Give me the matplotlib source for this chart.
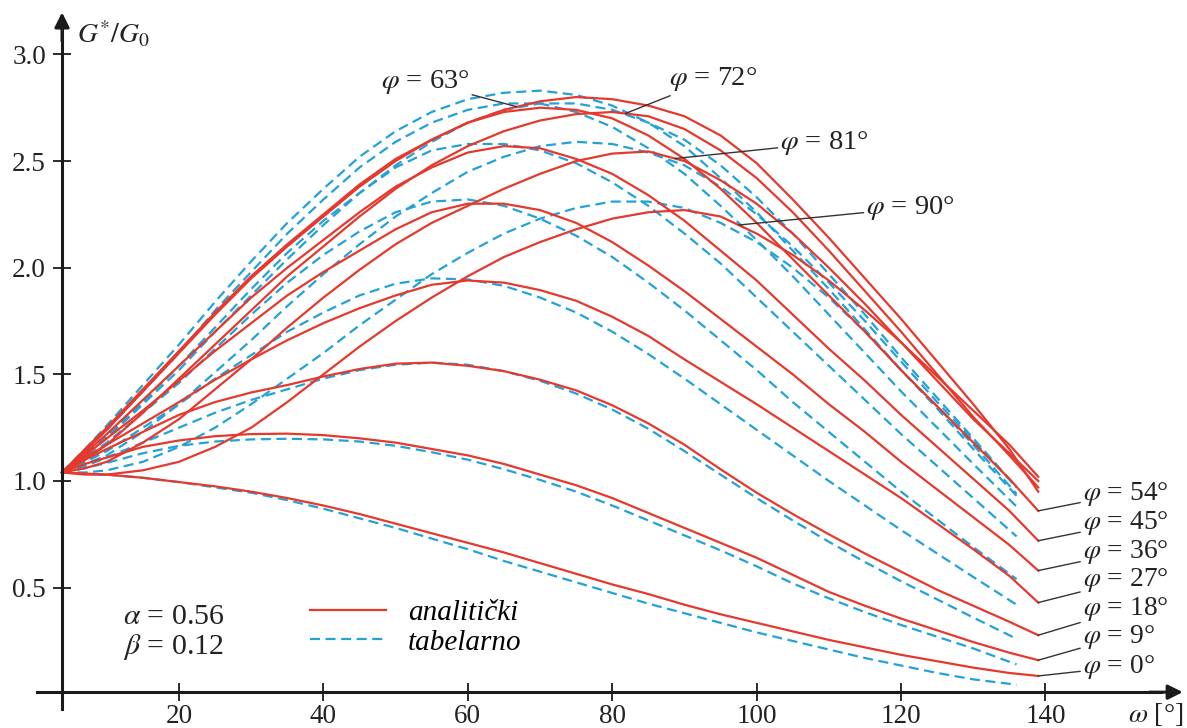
import numpy as np
import matplotlib
matplotlib.use("Agg")
import matplotlib.pyplot as plt

plt.rcParams['font.family'] = ['Liberation Serif', 'DejaVu Serif']
plt.rcParams['mathtext.fontset'] = 'stix'

# omega (deg) at which the curves were read
w_red = [3.8, 7, 10, 15, 20, 25, 30, 35, 40, 45, 50, 55, 60, 65, 70, 75, 80, 85, 90,
         95, 100, 105, 110, 115, 120, 125, 130, 135, 139]
w_blue = [3.8, 7, 10, 15, 20, 25, 30, 35, 40, 45, 50, 55, 60, 65, 70, 75, 80, 85, 90,
          95, 100, 105, 110, 115, 120, 125, 130, 136]

phis = [0, 9, 18, 27, 36, 45, 54, 63, 72, 81, 90]

# analiticki (red, solid)
red_00 = [1.04, 1.035, 1.03, 1.015, 0.995, 0.975, 0.95, 0.92, 0.885, 0.845, 0.80, 0.755, 0.71, 0.665, 0.615,
          0.565, 0.515, 0.47, 0.42, 0.375, 0.335, 0.295, 0.255, 0.22, 0.185, 0.155, 0.125, 0.10, 0.086]
red_09 = [1.04, 1.08, 1.11, 1.16, 1.19, 1.21, 1.22, 1.222, 1.215, 1.20, 1.18, 1.15, 1.12, 1.08, 1.03,
          0.98, 0.92, 0.85, 0.78, 0.71, 0.64, 0.56, 0.48, 0.415, 0.355, 0.30, 0.245, 0.195, 0.16]
red_18 = [1.04, 1.10, 1.15, 1.23, 1.31, 1.37, 1.415, 1.45, 1.49, 1.525, 1.55, 1.555, 1.54, 1.515, 1.475,
          1.425, 1.355, 1.27, 1.17, 1.055, 0.945, 0.845, 0.75, 0.66, 0.575, 0.49, 0.415, 0.34, 0.277]
red_27 = [1.04, 1.11, 1.17, 1.27, 1.37, 1.475, 1.57, 1.66, 1.74, 1.81, 1.87, 1.92, 1.94, 1.93, 1.895,
          1.845, 1.77, 1.68, 1.57, 1.465, 1.36, 1.25, 1.14, 1.03, 0.92, 0.80, 0.68, 0.555, 0.43]
red_36 = [1.04, 1.12, 1.20, 1.33, 1.47, 1.61, 1.74, 1.87, 1.98, 2.08, 2.18, 2.26, 2.30, 2.30, 2.27,
          2.21, 2.12, 2.01, 1.89, 1.76, 1.63, 1.50, 1.36, 1.23, 1.09, 0.96, 0.83, 0.70, 0.58]
red_45 = [1.04, 1.13, 1.22, 1.38, 1.54, 1.70, 1.86, 2.00, 2.13, 2.26, 2.38, 2.47, 2.54, 2.57, 2.56,
          2.51, 2.44, 2.34, 2.22, 2.08, 1.94, 1.78, 1.62, 1.47, 1.31, 1.16, 1.01, 0.86, 0.72]
red_54 = [1.04, 1.14, 1.24, 1.42, 1.60, 1.78, 1.95, 2.10, 2.24, 2.38, 2.50, 2.60, 2.68, 2.73, 2.75,
          2.74, 2.70, 2.62, 2.51, 2.37, 2.21, 2.04, 1.87, 1.70, 1.52, 1.35, 1.18, 1.01, 0.86]
red_63 = [1.04, 1.15, 1.25, 1.43, 1.61, 1.79, 1.96, 2.11, 2.25, 2.39, 2.51, 2.60, 2.68, 2.74, 2.78,
          2.80, 2.79, 2.76, 2.71, 2.62, 2.49, 2.32, 2.14, 1.95, 1.76, 1.56, 1.36, 1.15, 0.95]
red_72 = [1.04, 1.10, 1.17, 1.32, 1.48, 1.64, 1.80, 1.96, 2.10, 2.24, 2.37, 2.48, 2.57, 2.64, 2.69,
          2.72, 2.73, 2.71, 2.65, 2.55, 2.42, 2.26, 2.08, 1.89, 1.70, 1.50, 1.30, 1.12, 0.97]
red_81 = [1.04, 1.06, 1.09, 1.18, 1.29, 1.43, 1.57, 1.72, 1.86, 1.99, 2.11, 2.21, 2.29, 2.37, 2.44,
          2.50, 2.535, 2.545, 2.50, 2.41, 2.30, 2.16, 2.00, 1.83, 1.65, 1.47, 1.29, 1.13, 1.00]
red_90 = [1.04, 1.03, 1.03, 1.05, 1.09, 1.16, 1.25, 1.37, 1.50, 1.63, 1.75, 1.86, 1.96, 2.05, 2.12,
          2.18, 2.23, 2.26, 2.27, 2.24, 2.16, 2.06, 1.94, 1.80, 1.65, 1.49, 1.33, 1.17, 1.02]

# tabelarno (blue, dashed)
blue_00 = [1.04, 1.035, 1.03, 1.015, 0.995, 0.97, 0.945, 0.91, 0.87, 0.825, 0.78, 0.73, 0.68, 0.625,
           0.575, 0.525, 0.475, 0.425, 0.38, 0.335, 0.29, 0.25, 0.21, 0.17, 0.135, 0.10, 0.07, 0.045]
blue_09 = [1.04, 1.06, 1.085, 1.13, 1.165, 1.185, 1.195, 1.198, 1.195, 1.185, 1.165, 1.135, 1.10, 1.055,
           1.005, 0.95, 0.885, 0.815, 0.745, 0.675, 0.60, 0.52, 0.45, 0.385, 0.325, 0.27, 0.215, 0.14]
blue_18 = [1.04, 1.07, 1.11, 1.18, 1.25, 1.32, 1.38, 1.43, 1.48, 1.52, 1.545, 1.555, 1.545, 1.515,
           1.47, 1.41, 1.335, 1.245, 1.14, 1.03, 0.92, 0.815, 0.715, 0.62, 0.53, 0.445, 0.36, 0.26]
blue_27 = [1.04, 1.09, 1.14, 1.25, 1.36, 1.48, 1.59, 1.70, 1.79, 1.87, 1.925, 1.95, 1.945, 1.915,
           1.86, 1.79, 1.70, 1.595, 1.48, 1.36, 1.24, 1.12, 1.00, 0.885, 0.77, 0.66, 0.55, 0.42]
blue_36 = [1.04, 1.11, 1.18, 1.32, 1.46, 1.62, 1.78, 1.93, 2.06, 2.17, 2.26, 2.31, 2.32, 2.29,
           2.23, 2.15, 2.05, 1.93, 1.80, 1.66, 1.52, 1.37, 1.23, 1.09, 0.95, 0.82, 0.69, 0.54]
blue_45 = [1.04, 1.12, 1.21, 1.37, 1.54, 1.72, 1.90, 2.07, 2.22, 2.35, 2.47, 2.55, 2.58, 2.58,
           2.55, 2.49, 2.40, 2.29, 2.16, 2.02, 1.86, 1.70, 1.54, 1.38, 1.22, 1.07, 0.92, 0.74]
blue_54 = [1.04, 1.14, 1.24, 1.42, 1.60, 1.80, 1.98, 2.16, 2.32, 2.47, 2.59, 2.68, 2.74, 2.77,
           2.77, 2.73, 2.66, 2.56, 2.44, 2.29, 2.13, 1.96, 1.78, 1.60, 1.42, 1.25, 1.08, 0.88]
blue_63 = [1.04, 1.15, 1.26, 1.45, 1.64, 1.84, 2.03, 2.21, 2.37, 2.52, 2.64, 2.73, 2.79, 2.82,
           2.83, 2.81, 2.76, 2.68, 2.57, 2.42, 2.26, 2.08, 1.90, 1.71, 1.52, 1.34, 1.15, 0.93]
blue_72 = [1.04, 1.12, 1.20, 1.36, 1.52, 1.70, 1.87, 2.04, 2.20, 2.35, 2.48, 2.59, 2.68, 2.74,
           2.77, 2.77, 2.74, 2.68, 2.60, 2.48, 2.33, 2.16, 1.97, 1.78, 1.58, 1.39, 1.20, 0.97]
blue_81 = [1.04, 1.08, 1.12, 1.23, 1.36, 1.51, 1.66, 1.82, 1.97, 2.11, 2.24, 2.35, 2.45, 2.52,
           2.57, 2.59, 2.58, 2.54, 2.48, 2.38, 2.25, 2.10, 1.93, 1.75, 1.56, 1.37, 1.19, 0.97]
blue_90 = [1.04, 1.04, 1.05, 1.09, 1.16, 1.25, 1.36, 1.48, 1.60, 1.73, 1.85, 1.97, 2.07, 2.16,
           2.23, 2.28, 2.31, 2.31, 2.28, 2.21, 2.12, 2.00, 1.86, 1.70, 1.52, 1.35, 1.17, 0.94]

reds = [red_00, red_09, red_18, red_27, red_36, red_45, red_54, red_63, red_72, red_81, red_90]
blues = [blue_00, blue_09, blue_18, blue_27, blue_36, blue_45, blue_54, blue_63, blue_72, blue_81, blue_90]

RED = '#e5392d'
BLUE = '#22a2d8'
INK = '#1a1a1a'
TXT = '#222222'

fig = plt.figure(figsize=(11.87, 7.28), dpi=100)
ax = fig.add_axes([0, 0, 1, 1])
ax.set_xlim(-4.79, 159.6)
ax.set_ylim(-0.158, 3.255)

for b in blues:
    ax.plot(w_blue, b, color=BLUE, lw=1.6, dashes=(4.5, 2.5), solid_joinstyle='round')
for r in reds:
    ax.plot(w_red, r, color=RED, lw=1.6, solid_joinstyle='round')

# axes with arrows
for s in ['top', 'right']:
    ax.spines[s].set_visible(False)
ax.spines['left'].set_position(('data', 3.8))
ax.spines['bottom'].set_position(('data', 0.01))
ax.spines['left'].set_bounds(-0.07, 3.12)
ax.spines['bottom'].set_bounds(0.3, 156)
for s in ['left', 'bottom']:
    ax.spines[s].set_linewidth(2.2)
    ax.spines[s].set_color(INK)
ax.annotate('', xy=(3.8, 3.21), xytext=(3.8, 3.05),
            arrowprops=dict(arrowstyle='-|>', color=INK, lw=2.2, mutation_scale=22))
ax.annotate('', xy=(159.4, 0.01), xytext=(154, 0.01),
            arrowprops=dict(arrowstyle='-|>', color=INK, lw=2.2, mutation_scale=22))

ax.set_xticks([20, 40, 60, 80, 100, 120, 140])
ax.set_yticks([0.5, 1.0, 1.5, 2.0, 2.5, 3.0])
ax.set_yticklabels(['0.5', '1.0', '1.5', '2.0', '2.5', '3.0'])
ax.tick_params(axis='both', direction='inout', length=13, width=1.3, colors=INK,
               labelsize=19.5, labelcolor=TXT)
ax.tick_params(axis='y', pad=5)
ax.tick_params(axis='x', pad=2)

ax.text(5.9, 3.053, r'$G^{*}/G_{0}$', fontsize=20, color=TXT, va='baseline')
ax.text(151.4, -0.128, r'$\omega$ [°]', fontsize=20, color=TXT, va='baseline')

ax.text(12.3, 0.362, r'$\alpha$ = 0.56', fontsize=21.5, color=TXT, va='center')
ax.text(12.3, 0.222, r'$\beta$ = 0.12', fontsize=21.5, color=TXT, va='center')

h1, = ax.plot([], [], color=RED, lw=1.6)
h2, = ax.plot([], [], color=BLUE, lw=1.6, dashes=(4.5, 2.5))
ax.legend([h1, h2], ['analitički', 'tabelarno'], loc='center left',
          bbox_to_anchor=(310 / 1187, 1 - 627.5 / 728), frameon=False,
          borderpad=0, borderaxespad=0, handlelength=2.6, handletextpad=0.75,
          labelspacing=0.12, prop={'family': 'Liberation Serif', 'style': 'italic', 'size': 21})

# labels at the curve ends (phi = 0 .. 54)
lab_y = [0.1275, 0.268, 0.401, 0.534, 0.667, 0.803, 0.941]
for i in range(7):
    r = reds[i]
    ax.annotate(r'$\varphi$ = %d°' % phis[i], xy=(w_red[-1], r[-1]), xytext=(145.2, lab_y[i]),
                fontsize=19.8, color=TXT, va='center', ha='left',
                arrowprops=dict(arrowstyle='-', color='#333333', lw=1.0, shrinkA=0, shrinkB=0))

# labels at the top (phi = 63 .. 90)
top = [(7, 66.8, 60.2, 2.87, 'right'), (8, 81.8, 87.8, 2.885, 'left'),
       (9, 88.7, 103.3, 2.585, 'left'), (10, 97.5, 115.2, 2.28, 'left')]
for i, wx, tx, ty, ha in top:
    yy = np.interp(wx, w_red, reds[i])
    ax.annotate(r'$\varphi$ = %d°' % phis[i], xy=(wx, yy), xytext=(tx, ty),
                fontsize=20.5, color=TXT, va='center', ha=ha,
                arrowprops=dict(arrowstyle='-', color='#333333', lw=1.0, shrinkA=0, shrinkB=0))

fig.savefig('out.png', dpi=100)
